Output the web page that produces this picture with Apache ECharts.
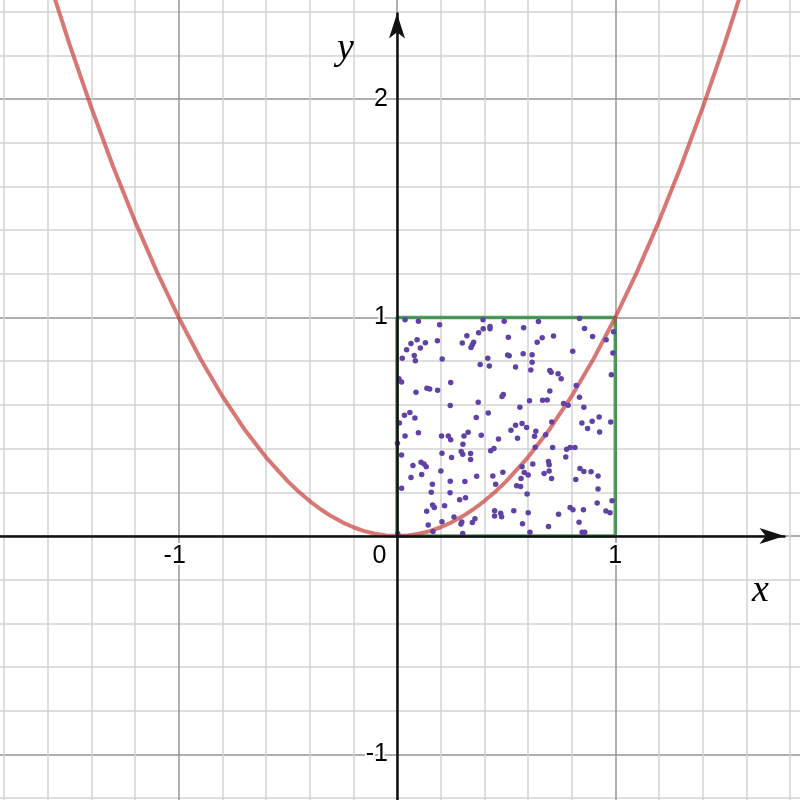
<!DOCTYPE html>
<html>
<head>
<meta charset="utf-8">
<script src="https://cdn.jsdelivr.net/npm/echarts@6/dist/echarts.min.js"></script>
<style>html,body{margin:0;padding:0;background:#fff}#c{width:800px;height:800px}</style>
</head>
<body>
<div id="c"></div>
<script>
// ---------- data ----------
var xTickLabels = [-1, 0, 1];
var yTickLabels = [-1, 1, 2];

// parabola y = x^2
var curveX = [-1.9,-1.8,-1.7,-1.6,-1.5,-1.4,-1.3,-1.2,-1.1,-1.0,-0.9,-0.8,-0.7,-0.6,-0.5,-0.45,-0.4,-0.35,-0.3,-0.25,-0.2,-0.15,-0.1,-0.05,0,
              0.05,0.1,0.15,0.2,0.25,0.3,0.35,0.4,0.45,0.5,0.6,0.7,0.8,0.9,1.0,1.1,1.2,1.3,1.4,1.5,1.6,1.7,1.8,1.9];
var curveY = [3.61,3.24,2.89,2.56,2.25,1.96,1.69,1.44,1.21,1.00,0.81,0.64,0.49,0.36,0.25,0.2025,0.16,0.1225,0.09,0.0625,0.04,0.0225,0.01,0.0025,0,
              0.0025,0.01,0.0225,0.04,0.0625,0.09,0.1225,0.16,0.2025,0.25,0.36,0.49,0.64,0.81,1.00,1.21,1.44,1.69,1.96,2.25,2.56,2.89,3.24,3.61];

// unit square outline
var squareX = [0, 1, 1, 0, 0];
var squareY = [0, 0, 1, 1, 0];

// random sample points inside the unit square
var pointX = [
0.037,0.098,0.195,0.394,0.491,0.426,0.426,0.395,0.374,0.320,0.299,0.351,0.345,0.339,0.185,0.130,0.092,0.064,0.107,0.044,
0.079,0.084,0.024,0.207,0.381,0.416,0.423,0.009,0.021,0.246,0.087,0.137,0.150,0.186,0.487,0.481,0.372,0.244,0.059,0.034,
0.082,0.363,0.418,0.011,
0.580,0.648,0.836,0.859,0.896,0.958,0.992,0.510,0.717,0.665,0.642,0.507,0.514,0.578,0.619,0.619,0.805,0.989,0.543,0.613,
0.700,0.706,0.738,0.752,0.982,0.821,0.700,0.836,0.607,0.667,0.688,0.763,0.784,0.563,0.856,0.709,0.573,0.543,0.847,0.894,
0.926,0.979,
0.002,0.037,0.098,0.204,0.235,0.246,0.307,0.326,0.386,0.465,0.302,0.021,0.206,0.250,0.294,0.301,0.337,0.337,0.429,0.444,
0.073,0.110,0.124,0.134,0.113,0.064,0.201,0.244,0.311,0.365,0.439,0.485,0.452,0.021,0.162,0.157,0.243,0.287,0.314,0.163,
0.171,0.218,0.136,0.261,0.297,0.293,0.345,0.357,0.447,0.475,0.447,0.479,0.143,0.206,0.165,0.301,0.003,
0.522,0.594,0.552,0.636,0.630,0.681,0.873,0.928,0.633,0.713,0.777,0.793,0.815,0.773,0.694,0.697,0.622,0.573,0.583,0.601,
0.568,0.697,0.674,0.708,0.838,0.856,0.889,0.921,0.819,0.548,0.566,0.921,0.596,0.917,0.985,0.793,0.806,0.854,0.957,0.976,
0.535,0.601,0.740,0.575,0.694,0.834,0.609,0.848,0.860
];
var pointY = [
0.990,0.983,0.967,0.990,0.983,0.959,0.948,0.948,0.930,0.916,0.883,0.887,0.875,0.863,0.894,0.884,0.898,0.881,0.860,0.852,
0.826,0.802,0.814,0.810,0.785,0.813,0.778,0.720,0.705,0.702,0.658,0.676,0.673,0.667,0.648,0.639,0.612,0.597,0.565,0.553,
0.540,0.542,0.563,0.517,
0.953,0.982,0.995,0.950,0.913,0.898,0.935,0.910,0.915,0.907,0.887,0.828,0.825,0.834,0.830,0.795,0.846,0.837,0.773,0.760,
0.758,0.749,0.743,0.720,0.738,0.689,0.664,0.635,0.619,0.621,0.622,0.606,0.598,0.589,0.589,0.522,0.515,0.507,0.517,0.525,
0.545,0.522,
0.425,0.458,0.472,0.458,0.458,0.441,0.458,0.475,0.461,0.444,0.420,0.371,0.379,0.359,0.387,0.374,0.378,0.350,0.390,0.400,
0.323,0.337,0.329,0.317,0.282,0.268,0.298,0.251,0.250,0.273,0.275,0.292,0.237,0.218,0.237,0.200,0.198,0.166,0.175,0.142,
0.131,0.139,0.113,0.087,0.064,0.055,0.062,0.079,0.116,0.104,0.091,0.088,0.050,0.065,0.021,0.012,0.012,
0.484,0.496,0.447,0.479,0.457,0.463,0.492,0.476,0.406,0.405,0.397,0.405,0.405,0.362,0.341,0.326,0.329,0.317,0.291,0.279,
0.263,0.298,0.286,0.263,0.309,0.295,0.294,0.275,0.259,0.230,0.227,0.215,0.192,0.151,0.161,0.131,0.120,0.120,0.114,0.106,
0.116,0.106,0.099,0.056,0.044,0.063,0.017,0.017,0.017
];

// ---------- layout constants ----------
var X0 = 397, Y0 = 536, UX = 218.3, UY = 218.5, W = 800, H = 800;

function zip(a, b) { var r = []; for (var i = 0; i < a.length; i++) r.push([a[i], b[i]]); return r; }

var chart = echarts.init(document.getElementById('c'), null, {renderer: 'canvas'});

var gxMin = -2, gxMax = 2, gyMin = -2, gyMax = 3;
var arrowLen = 25;

var labelFont = {fontFamily: 'Liberation Sans, Arial, sans-serif', fontSize: 25, color: '#000',
                 textBorderColor: '#fff', textBorderWidth: 4};

function hiddenAxis(gi, mn, mx) {
  return {type: 'value', gridIndex: gi, min: mn, max: mx, show: false,
          axisLine: {show: false}, axisTick: {show: false}, axisLabel: {show: false}, splitLine: {show: false}};
}

var option = {
  animation: false,
  backgroundColor: '#fff',
  grid: [
    // 0: main plotting grid (extended past the canvas so ticks start on whole numbers)
    {left: X0 + gxMin * UX, top: Y0 - gyMax * UY, width: (gxMax - gxMin) * UX, height: (gyMax - gyMin) * UY,
     containLabel: false, outerBoundsMode: 'none'},
    // 1: arrowed axis lines
    {left: 0, right: arrowLen / 2 + 3, top: arrowLen / 2 + 1, bottom: 0, containLabel: false, outerBoundsMode: 'none'},
    // 2: x tick labels (bottom edge on y = 0)
    {left: X0 + gxMin * UX, width: (gxMax - gxMin) * UX, top: 0, height: Y0, containLabel: false, outerBoundsMode: 'none'},
    // 3: y tick labels (left edge on x = 0)
    {left: X0, width: 50, top: Y0 - gyMax * UY, height: (gyMax - gyMin) * UY, containLabel: false, outerBoundsMode: 'none'}
  ],
  xAxis: [
    {
      type: 'value', gridIndex: 0, min: gxMin, max: gxMax, interval: 1, z: 1,
      axisLine: {show: false}, axisTick: {show: false}, axisLabel: {show: false},
      minorTick: {show: false, splitNumber: 5},
      splitLine: {show: true, lineStyle: {color: '#949494', width: 1.5}},
      minorSplitLine: {show: true, lineStyle: {color: '#d4d4d4', width: 1.5}}
    },
    {
      type: 'value', gridIndex: 1,
      min: (0 - X0) / UX, max: (W - (arrowLen / 2 + 3) - X0) / UX, z: 10,
      axisLine: {show: true, onZero: true, symbol: ['none', 'arrow'], symbolSize: [12, arrowLen],
                 lineStyle: {color: '#111', width: 2.5}},
      axisTick: {show: false}, splitLine: {show: false}, axisLabel: {show: false}
    },
    {
      type: 'value', gridIndex: 2, position: 'bottom', min: gxMin, max: gxMax, interval: 1, z: 12,
      axisLine: {show: false, onZero: false}, axisTick: {show: false}, splitLine: {show: false},
      axisLabel: Object.assign({
        show: true, margin: 8, hideOverlap: false, showMinLabel: false, showMaxLabel: false,
        formatter: function (v) {
          if (xTickLabels.indexOf(v) < 0) return '';
          if (v === 0) return '{z|0}';
          if (v < 0) return '{n|' + v + '}';
          return '{p|' + v + '}';
        },
        rich: {
          z: Object.assign({padding: [0, 35, 0, 0]}, labelFont),
          n: Object.assign({padding: [0, 8, 0, 0]}, labelFont),
          p: Object.assign({}, labelFont)
        }
      }, labelFont)
    },
    hiddenAxis(3, 0, 1)
  ],
  yAxis: [
    {
      type: 'value', gridIndex: 0, min: gyMin, max: gyMax, interval: 1, z: 1,
      axisLine: {show: false}, axisTick: {show: false}, axisLabel: {show: false},
      minorTick: {show: false, splitNumber: 5},
      splitLine: {show: true, lineStyle: {color: '#949494', width: 1.5}},
      minorSplitLine: {show: true, lineStyle: {color: '#d4d4d4', width: 1.5}}
    },
    {
      type: 'value', gridIndex: 1,
      min: (Y0 - H) / UY, max: (Y0 - (arrowLen / 2 + 1)) / UY, z: 10,
      axisLine: {show: true, onZero: true, symbol: ['none', 'arrow'], symbolSize: [12, arrowLen],
                 lineStyle: {color: '#111', width: 2.5}},
      axisTick: {show: false}, splitLine: {show: false}, axisLabel: {show: false}
    },
    hiddenAxis(2, 0, 1),
    {
      type: 'value', gridIndex: 3, position: 'left', min: gyMin, max: gyMax, interval: 1, z: 12,
      axisLine: {show: false, onZero: false}, axisTick: {show: false}, splitLine: {show: false},
      axisLabel: Object.assign({
        show: true, margin: 9, hideOverlap: false, showMinLabel: false, showMaxLabel: false,
        formatter: function (v) { return yTickLabels.indexOf(v) < 0 ? '' : String(v); }
      }, labelFont)
    }
  ],
  graphic: [
    {type: 'text', left: 752, top: 572, z: 20,
     style: {text: 'x', font: 'italic 38px "Liberation Serif", "DejaVu Serif", serif', fill: '#000'}},
    {type: 'text', left: 337, top: 30, z: 20,
     style: {text: 'y', font: 'italic 38px "Liberation Serif", "DejaVu Serif", serif', fill: '#000'}}
  ],
  series: [
    {
      type: 'line', xAxisIndex: 0, yAxisIndex: 0, z: 3,
      data: zip(squareX, squareY), showSymbol: false, symbol: 'none', clip: true,
      lineStyle: {color: 'rgba(56,140,70,0.85)', width: 3.5}
    },
    {
      type: 'line', xAxisIndex: 0, yAxisIndex: 0, z: 4,
      data: zip(curveX, curveY), showSymbol: false, symbol: 'none', clip: true,
      lineStyle: {color: 'rgba(199,68,64,0.72)', width: 4}
    },
    {
      type: 'scatter', xAxisIndex: 0, yAxisIndex: 0, z: 5,
      data: zip(pointX, pointY), symbol: 'circle', symbolSize: 5.5, clip: true,
      itemStyle: {color: '#6042a6', opacity: 1}
    }
  ]
};
chart.setOption(option);
</script>
</body>
</html>
